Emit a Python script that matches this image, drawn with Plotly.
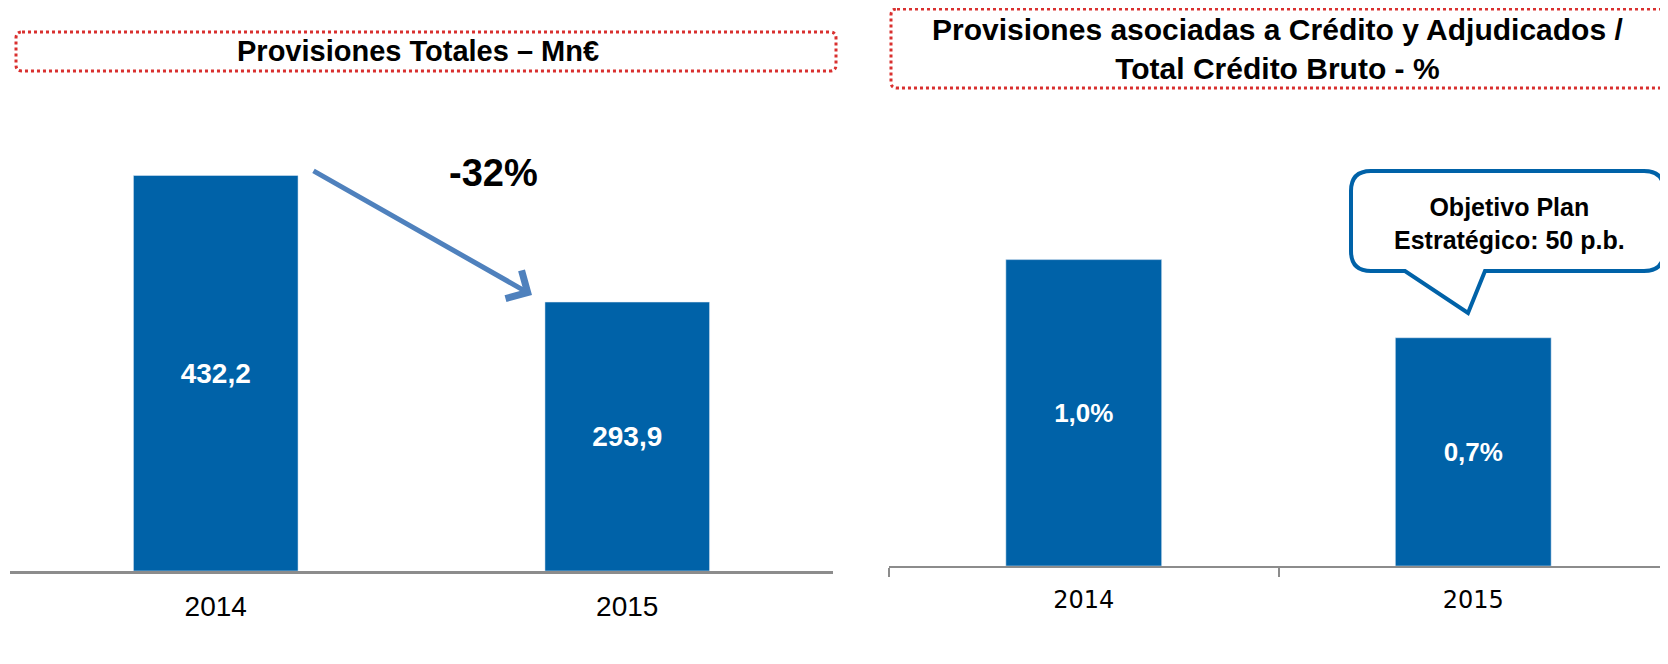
import plotly.graph_objects as go

# chart data
years = ["2014", "2015"]
total_provisions = [432.2, 293.9]          # Mn€
provision_ratio = [0.98, 0.73]             # % of gross credit
change_label = "-32%"
left_title = "Provisiones Totales – Mn€"
right_title = "Provisiones asociadas a Crédito y Adjudicados /<br>Total Crédito Bruto - %"
callout_text = "Objetivo Plan<br>Estratégico: 50 p.b."

# the page body has an 8px margin, so the figure is drawn 8px smaller
# and all layout positions below are given in window pixels
OFF = 8
W, H = 1668 - OFF, 664 - OFF
BAR_BLUE = "#0062A8"
SANS = "Liberation Sans, Arial, sans-serif"


def px(x):
    return (x - OFF) / W


def py(y):
    return 1 - (y - OFF) / H


def rounded_rect(x0, y0, x1, y1, r):
    """Rounded rectangle path (pixel coords in, paper coords out)."""
    return (
        f"M {px(x0 + r)},{py(y0)} L {px(x1 - r)},{py(y0)} "
        f"Q {px(x1)},{py(y0)} {px(x1)},{py(y0 + r)} L {px(x1)},{py(y1 - r)} "
        f"Q {px(x1)},{py(y1)} {px(x1 - r)},{py(y1)} L {px(x0 + r)},{py(y1)} "
        f"Q {px(x0)},{py(y1)} {px(x0)},{py(y1 - r)} L {px(x0)},{py(y0 + r)} "
        f"Q {px(x0)},{py(y0)} {px(x0 + r)},{py(y0)} Z"
    )


def callout_path(x0, y0, x1, y1, r, tail_l, tail_r, tip):
    """Speech bubble: rounded box with a tail on the bottom edge."""
    return (
        f"M {px(x0 + r)},{py(y0)} L {px(x1 - r)},{py(y0)} "
        f"Q {px(x1)},{py(y0)} {px(x1)},{py(y0 + r)} L {px(x1)},{py(y1 - r)} "
        f"Q {px(x1)},{py(y1)} {px(x1 - r)},{py(y1)} "
        f"L {px(tail_r)},{py(y1)} L {px(tip[0])},{py(tip[1])} L {px(tail_l)},{py(y1)} "
        f"L {px(x0 + r)},{py(y1)} "
        f"Q {px(x0)},{py(y1)} {px(x0)},{py(y1 - r)} L {px(x0)},{py(y0 + r)} "
        f"Q {px(x0)},{py(y0)} {px(x0 + r)},{py(y0)} Z"
    )


fig = go.Figure()

fig.add_trace(go.Bar(
    x=years, y=total_provisions, xaxis="x", yaxis="y",
    marker_color=BAR_BLUE, width=0.4,
    texttemplate="%{y:.1f}", textposition="inside", insidetextanchor="middle",
    textangle=0,
    textfont=dict(family=SANS, size=28, color="white", weight="bold"),
    hoverinfo="skip",
))

fig.add_trace(go.Bar(
    x=years, y=provision_ratio, xaxis="x2", yaxis="y2",
    marker_color=BAR_BLUE, width=0.4,
    texttemplate="%{y:.1f}%", textposition="inside", insidetextanchor="middle",
    textangle=0,
    textfont=dict(family=SANS, size=26, color="white", weight="bold"),
    hoverinfo="skip",
))

fig.update_layout(
    width=W, height=H,
    margin=dict(l=0, r=0, t=0, b=0),
    paper_bgcolor="white", plot_bgcolor="white",
    showlegend=False,
    separators=",.",
    xaxis=dict(
        domain=[px(10), px(833)], anchor="y", type="category",
        showline=True, linecolor="#8C8C8C", linewidth=3,
        ticks="", showgrid=False, zeroline=False,
        tickfont=dict(family=SANS, size=28, color="black"),
        ticklabelstandoff=8,
    ),
    yaxis=dict(
        domain=[py(571), py(150)], anchor="x",
        range=[0, 421 / (395.5 / 432.2)], visible=False,
    ),
    xaxis2=dict(
        domain=[px(889), 1.0], anchor="y2", type="category",
        showline=True, linecolor="#8C8C8C", linewidth=2,
        ticks="outside", tickson="boundaries", ticklen=9, tickwidth=1.5, tickcolor="#8C8C8C",
        showgrid=False, zeroline=False,
        tickfont=dict(family="DejaVu Sans, Verdana, sans-serif", size=24, color="black"),
        ticklabelstandoff=11,
    ),
    yaxis2=dict(
        domain=[py(566), py(150)], anchor="x2",
        range=[0, 416 / (306.4 / 0.98)], visible=False,
    ),
)

# title boxes (red dotted)
fig.add_shape(type="path", xref="paper", yref="paper",
              path=rounded_rect(16, 32, 836, 71, 6),
              line=dict(color="#D9302F", width=3, dash="dot"))
fig.add_shape(type="path", xref="paper", yref="paper",
              path=rounded_rect(891, 9, 1665, 88, 6),
              line=dict(color="#D9302F", width=3, dash="dot"))

fig.add_annotation(x=px(418), y=py(51), xref="paper", yref="paper",
                   xanchor="center", yanchor="middle",
                   text=left_title, showarrow=False,
                   font=dict(family=SANS, size=29, color="black", weight="bold"))
fig.add_annotation(x=px(1277), y=py(49), xref="paper", yref="paper",
                   xanchor="center", yanchor="middle",
                   text=right_title, showarrow=False,
                   font=dict(family=SANS, size=30, color="black", weight="bold"))

# decline arrow and label
fig.add_annotation(x=px(532), y=py(295), xref="paper", yref="paper",
                   ax=312 - 532, ay=170 - 295, text="", showarrow=True,
                   arrowhead=4, arrowsize=1.25, arrowwidth=5, arrowcolor="#4F81BD")
fig.add_annotation(x=px(493), y=py(173), xref="paper", yref="paper",
                   xanchor="center", yanchor="middle",
                   text=change_label, showarrow=False,
                   font=dict(family=SANS, size=38, color="black", weight="bold"))

# strategic plan callout
fig.add_shape(type="path", xref="paper", yref="paper",
              path=callout_path(1351, 171, 1664, 271, 20, 1405, 1485, (1468, 313)),
              fillcolor="white", line=dict(color=BAR_BLUE, width=4))
fig.add_annotation(x=px(1509), y=py(223), xref="paper", yref="paper",
                   xanchor="center", yanchor="middle",
                   text=callout_text, showarrow=False,
                   font=dict(family=SANS, size=25, color="black", weight="bold"))

fig.write_html("out.html")
